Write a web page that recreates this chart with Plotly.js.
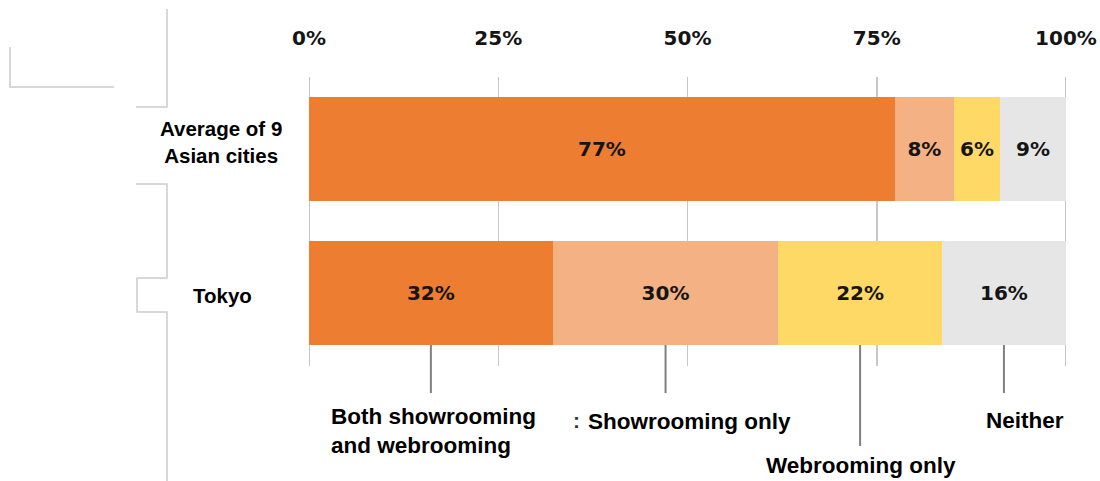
<!DOCTYPE html>
<html>
<head>
<meta charset="utf-8">
<script src="https://cdn.plot.ly/plotly-3.0.1.min.js"></script>
<style>html,body{margin:0;padding:0;background:#fff;}#chart{width:1100px;height:481px;}</style>
</head>
<body>
<div id="chart"></div>
<script>
// ---- data ----
var cities = ["Average of 9<br>Asian cities", "Tokyo"];
var seriesNames = ["Both showrooming and webrooming", "Showrooming only", "Webrooming only", "Neither"];
var bothVals = [77.4, 32.2];
var showOnlyVals = [7.8, 29.8];
var webOnlyVals = [6.1, 21.6];
var neitherVals = [8.7, 16.4];
var tickVals = [0, 25, 50, 75, 100];
var tickLabels = ["0%", "25%", "50%", "75%", "100%"];
var bottomLabels = ["Both showrooming<br>and webrooming", "Showrooming only", "Webrooming only", "Neither"];

var colors = ["#ED7D31", "#F4B183", "#FFD966", "#E6E6E6"];
var allVals = [bothVals, showOnlyVals, webOnlyVals, neitherVals];

// pixel -> paper helpers (plot area: x 309..1066, y 77..366)
var L = 309, R = 1066, T = 77, B = 366;
function px(x) { return (x - L) / (R - L); }
function py(y) { return (B - y) / (B - T); }

var traces = allVals.map(function (vals, i) {
  return {
    type: "bar",
    orientation: "h",
    name: seriesNames[i],
    y: cities,
    x: vals,
    marker: { color: colors[i], line: { width: 0 } },
    texttemplate: "%{x:.0f}%",
    textposition: "inside",
    insidetextanchor: "middle",
    constraintext: "none",
    textangle: 0,
    textfont: { family: "DejaVu Sans", size: 20, weight: "bold", color: "#151515" },
    hoverinfo: "skip"
  };
});

var lineGray = "#cccccc";
var shapes = [
  { type: "path", xref: "paper", yref: "paper",
    path: "M" + px(167) + "," + py(9) + " L" + px(167) + "," + py(107) + " L" + px(136) + "," + py(107),
    line: { color: lineGray, width: 1.5 } },
  { type: "path", xref: "paper", yref: "paper",
    path: "M" + px(10) + "," + py(47) + " L" + px(10) + "," + py(87) + " L" + px(114) + "," + py(87),
    line: { color: lineGray, width: 1.5 } },
  { type: "path", xref: "paper", yref: "paper",
    path: "M" + px(136) + "," + py(184) + " L" + px(167) + "," + py(184) + " L" + px(167) + "," + py(278) +
          " L" + px(137) + "," + py(278) + " L" + px(137) + "," + py(312) + " L" + px(167) + "," + py(312) +
          " L" + px(167) + "," + py(481),
    line: { color: lineGray, width: 1.5 } }
];

// edge grid lines at 0% and 100%
[tickVals[0], tickVals[tickVals.length - 1]].forEach(function (t) {
  shapes.push({ type: "line", xref: "x", yref: "paper", x0: t, x1: t, y0: 0, y1: 1,
    layer: "below", line: { color: "#c4c4c4", width: 2 } });
});

// leader lines at the middle of each Tokyo segment
var leaderEnds = [393, 393, 446, 393];
var cum = 0;
for (var i = 0; i < allVals.length; i++) {
  var v = allVals[i][1];
  var mid = cum + v / 2;
  cum += v;
  shapes.push({ type: "line", xref: "x", yref: "paper",
    x0: mid, x1: mid, y0: py(345), y1: py(leaderEnds[i]),
    line: { color: "#808080", width: 2 } });
}

var fam = "Liberation Sans, Arial, sans-serif";
var labFont = { family: fam, size: 22.5, weight: "bold", color: "#000" };
var cityFont = { family: fam, size: 20.5, weight: "bold", color: "#000" };
var annotations = [
  { text: cities[0], x: px(221), y: 0, xref: "paper", yref: "y", xanchor: "center", yanchor: "middle",
    yshift: 7, showarrow: false, align: "center", font: cityFont },
  { text: cities[1], x: px(222), y: 1, xref: "paper", yref: "y", xanchor: "center", yanchor: "middle",
    yshift: -3, showarrow: false, align: "center", font: cityFont },
  { text: bottomLabels[0], x: px(329), y: py(431), xref: "paper", yref: "paper", xanchor: "left", yanchor: "middle",
    showarrow: false, align: "left", font: labFont },
  { text: ":", x: px(576), y: py(420), xref: "paper", yref: "paper", xanchor: "center", yanchor: "middle",
    showarrow: false, font: { family: fam, size: 21, weight: "bold", color: "#333" } },
  { text: bottomLabels[1], x: px(586), y: py(421), xref: "paper", yref: "paper", xanchor: "left", yanchor: "middle",
    showarrow: false, align: "left", font: labFont },
  { text: bottomLabels[2], x: px(764), y: py(465), xref: "paper", yref: "paper", xanchor: "left", yanchor: "middle",
    showarrow: false, align: "left", font: labFont },
  { text: bottomLabels[3], x: px(984), y: py(420), xref: "paper", yref: "paper", xanchor: "left", yanchor: "middle",
    showarrow: false, align: "left", font: labFont }
];

var layout = {
  width: 1100, height: 481,
  margin: { l: L, r: 1100 - R, t: T, b: 481 - B, pad: 0 },
  paper_bgcolor: "#fff", plot_bgcolor: "#fff",
  barmode: "stack",
  bargap: 0.28,
  showlegend: false,
  xaxis: {
    side: "top", range: [0, 100], tickvals: tickVals, ticktext: tickLabels,
    showgrid: true, gridcolor: "#c8c8c8", gridwidth: 1.5,
    zeroline: false, showline: false, ticks: "",
    ticklabelstandoff: 27,
    tickfont: { family: "DejaVu Sans", size: 20, weight: "bold", color: "#151515" },
    fixedrange: true
  },
  yaxis: {
    type: "category", categoryarray: cities, range: [1.507, -0.5],
    showticklabels: false, showgrid: false, zeroline: false, showline: false, ticks: "",
    fixedrange: true
  },
  shapes: shapes,
  annotations: annotations
};

Plotly.newPlot("chart", traces, layout, { displayModeBar: false, staticPlot: true });
</script>
</body>
</html>
